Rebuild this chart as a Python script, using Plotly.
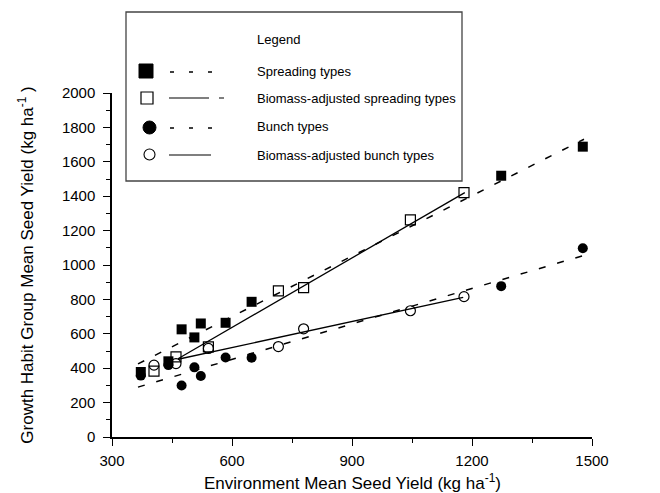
import plotly.graph_objects as go

# ---------------- data ----------------
env_x = [372, 441, 474, 506, 522, 584, 649, 1273, 1477]
spreading_y = [378, 440, 626, 579, 660, 664, 786, 1519, 1688]
bunch_y = [357, 418, 299, 405, 355, 462, 461, 877, 1097]

adj_x = [405, 460, 541, 716, 779, 1046, 1180]
adj_spreading_y = [383, 466, 524, 850, 868, 1262, 1421]
adj_bunch_y = [418, 427, 515, 526, 629, 734, 816]

# regression lines (end points)
spread_fit_x = [365, 1480]
spread_fit_y = [425, 1731]
bunch_fit_x = [365, 1480]
bunch_fit_y = [290, 1056]
adj_spread_fit_x = [465, 1182]
adj_spread_fit_y = [455, 1421]
adj_bunch_fit_x = [465, 1178]
adj_bunch_fit_y = [452, 812]

legend_labels = ["Spreading types", "Biomass-adjusted spreading types",
                 "Bunch types", "Biomass-adjusted bunch types"]

x_ticks = [300, 600, 900, 1200, 1500]
y_ticks = [0, 200, 400, 600, 800, 1000, 1200, 1400, 1600, 1800, 2000]

x_title = "Environment Mean Seed Yield (kg ha<sup>-1</sup>)"
y_title = "Growth Habit Group Mean Seed Yield (kg ha<sup>-1</sup> )"

FONT = "Liberation Sans, Arial, sans-serif"
W, H = 660, 493
OFF = 8  # page body margin
PX0, PY0 = 112, 93   # plot area top-left in page pixels
PW, PH = 480, 344
L, T = PX0 - OFF, PY0 - OFF
R, B = W - L - PW, H - T - PH


def px(x):
    return (x - PX0) / PW


def py(y):
    return (PY0 + PH - y) / PH


fig = go.Figure()

# fit lines
fig.add_trace(go.Scatter(x=spread_fit_x, y=spread_fit_y, mode="lines",
                         line=dict(color="black", width=1.5, dash="7px,12px")))
fig.add_trace(go.Scatter(x=bunch_fit_x, y=bunch_fit_y, mode="lines",
                         line=dict(color="black", width=1.5, dash="7px,12px")))
fig.add_trace(go.Scatter(x=adj_spread_fit_x, y=adj_spread_fit_y, mode="lines",
                         line=dict(color="black", width=1.3)))
fig.add_trace(go.Scatter(x=adj_bunch_fit_x, y=adj_bunch_fit_y, mode="lines",
                         line=dict(color="black", width=1.3)))

# points
fig.add_trace(go.Scatter(x=env_x, y=spreading_y, mode="markers",
                         marker=dict(symbol="square", size=10, color="black")))
fig.add_trace(go.Scatter(x=env_x, y=bunch_y, mode="markers",
                         marker=dict(symbol="circle", size=10, color="black")))
fig.add_trace(go.Scatter(x=adj_x, y=adj_spreading_y, mode="markers",
                         marker=dict(symbol="square-open", size=10, color="black",
                                     line=dict(width=1.2))))
fig.add_trace(go.Scatter(x=adj_x, y=adj_bunch_y, mode="markers",
                         marker=dict(symbol="circle-open", size=10, color="black",
                                     line=dict(width=1.2))))

shapes = []
annotations = []

# x axis title
annotations.append(dict(text=x_title, xref="paper", yref="paper", x=px(352), y=py(482),
                        xanchor="center", yanchor="middle", showarrow=False,
                        font=dict(family=FONT, size=17, color="black")))

# legend box
shapes.append(dict(type="rect", xref="paper", yref="paper",
                   x0=px(126), x1=px(462), y0=py(181), y1=py(12),
                   line=dict(color="#444", width=1.3), fillcolor="white", layer="above"))
annotations.append(dict(text="Legend", xref="paper", yref="paper", x=px(255), y=py(40),
                        xanchor="left", yanchor="middle", showarrow=False,
                        font=dict(family=FONT, size=13, color="black")))
rows = [71, 98, 127, 155]
for lbl, ry in zip(legend_labels, rows):
    annotations.append(dict(text=lbl, xref="paper", yref="paper", x=px(255), y=py(ry),
                            xanchor="left", yanchor="middle", showarrow=False,
                            font=dict(family=FONT, size=13, color="black")))

# legend symbols
shapes.append(dict(type="rect", xref="paper", yref="paper", x0=px(139), x1=px(153),
                   y0=py(78), y1=py(64), fillcolor="black", line=dict(color="black", width=1),
                   layer="above"))
shapes.append(dict(type="rect", xref="paper", yref="paper", x0=px(141), x1=px(153),
                   y0=py(104), y1=py(92), fillcolor="white", line=dict(color="black", width=1.2),
                   layer="above"))
shapes.append(dict(type="circle", xref="paper", yref="paper", x0=px(143), x1=px(156),
                   y0=py(134), y1=py(121), fillcolor="black", line=dict(color="black", width=1),
                   layer="above"))
shapes.append(dict(type="circle", xref="paper", yref="paper", x0=px(144), x1=px(155),
                   y0=py(160), y1=py(149), fillcolor="white", line=dict(color="black", width=1.1),
                   layer="above"))
# legend lines
shapes.append(dict(type="line", xref="paper", yref="paper", x0=px(170), x1=px(212),
                   y0=py(72), y1=py(72), line=dict(color="black", width=1.3, dash="4px,15px"),
                   layer="above"))
shapes.append(dict(type="line", xref="paper", yref="paper", x0=px(169), x1=px(224),
                   y0=py(98), y1=py(98), line=dict(color="black", width=1.2, dash="40px,10px"),
                   layer="above"))
shapes.append(dict(type="line", xref="paper", yref="paper", x0=px(170), x1=px(212),
                   y0=py(128), y1=py(128), line=dict(color="black", width=1.3, dash="4px,15px"),
                   layer="above"))
shapes.append(dict(type="line", xref="paper", yref="paper", x0=px(169), x1=px(211),
                   y0=py(155), y1=py(155), line=dict(color="black", width=1.2),
                   layer="above"))

fig.update_layout(
    width=W, height=H,
    margin=dict(l=L, r=R, t=T, b=B),
    paper_bgcolor="white", plot_bgcolor="white",
    showlegend=False,
    shapes=shapes, annotations=annotations,
    font=dict(family=FONT, color="black"),
)
fig.update_xaxes(
    range=[300, 1500], tickmode="array", tickvals=x_ticks,
    ticktext=[str(v) for v in x_ticks],
    showgrid=False, zeroline=False, showline=True, linecolor="black", linewidth=1.5,
    ticks="outside", ticklen=7, tickwidth=1.2, tickcolor="black",
    minor=dict(ticks="outside", ticklen=4, tickwidth=1, tickcolor="black", dtick=150, showgrid=False),
    tickfont=dict(family=FONT, size=15, color="black"), ticklabelstandoff=2,
)
fig.update_yaxes(
    range=[0, 2000], tickmode="array", tickvals=y_ticks,
    ticktext=[str(v) for v in y_ticks],
    showgrid=False, zeroline=False, showline=True, linecolor="black", linewidth=1.5,
    ticks="outside", ticklen=7, tickwidth=1.2, tickcolor="black",
    minor=dict(ticks="outside", ticklen=4, tickwidth=1, tickcolor="black", dtick=100, showgrid=False),
    tickfont=dict(family=FONT, size=15, color="black"), ticklabelstandoff=5,
    title=dict(text=y_title, font=dict(family=FONT, size=17, color="black"), standoff=24),
)

fig.write_html("out.html")
